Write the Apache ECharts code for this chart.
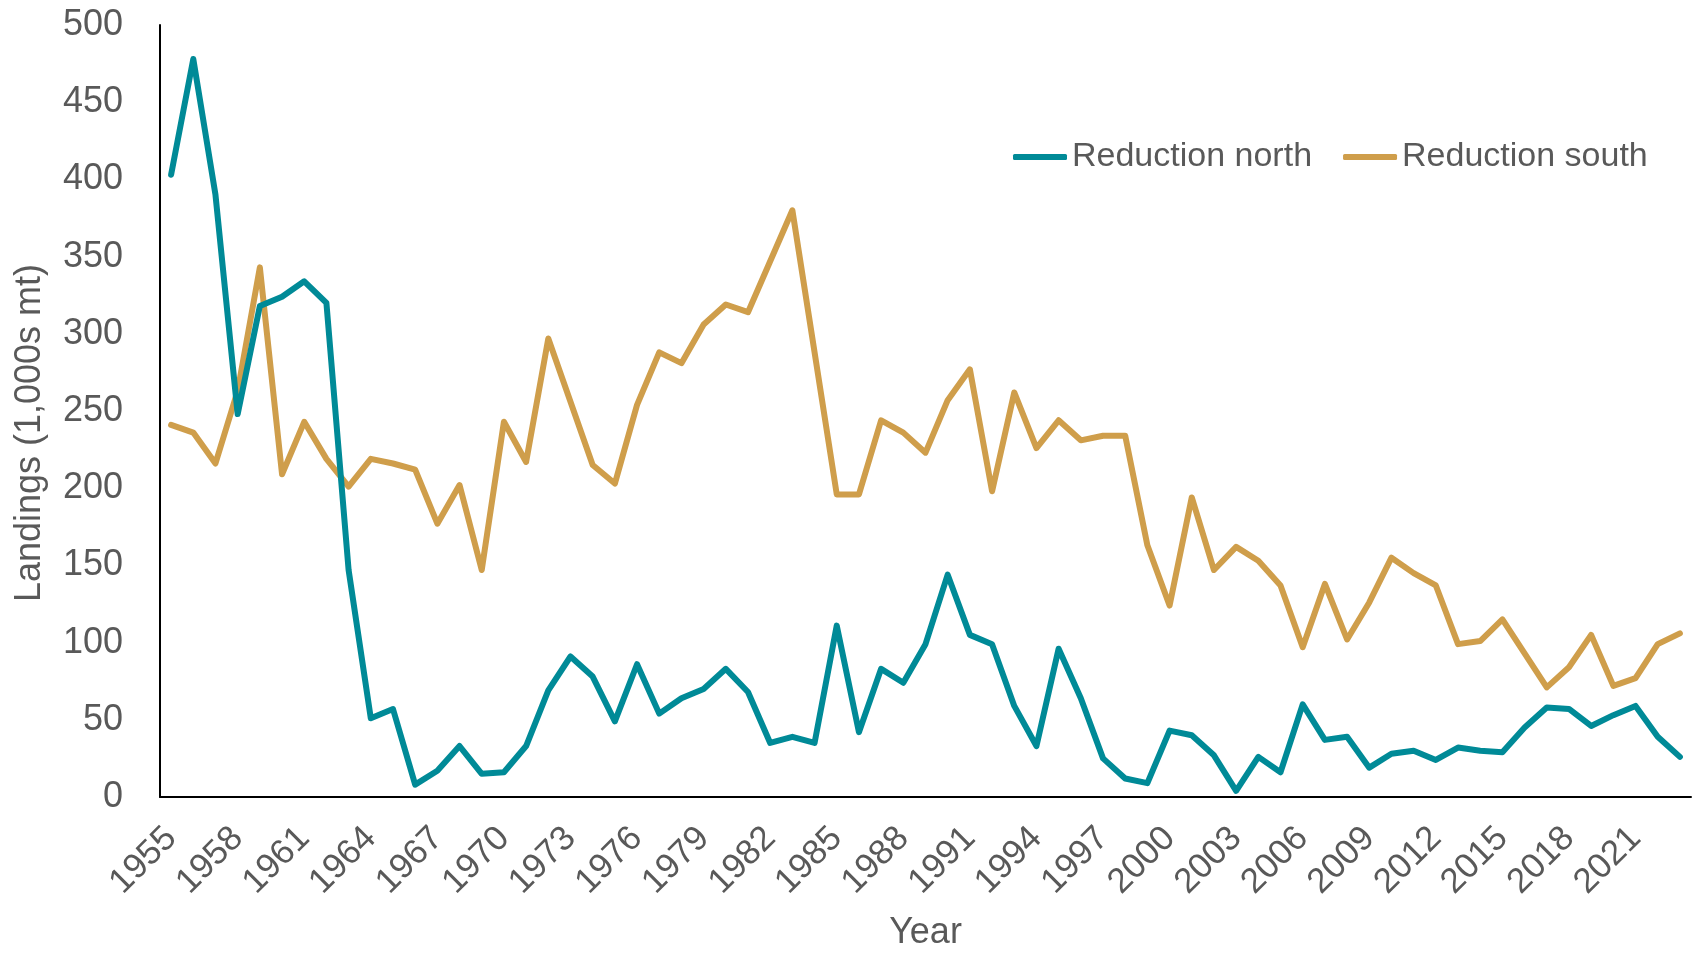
<!DOCTYPE html>
<html>
<head>
<meta charset="utf-8">
<script src="https://cdn.jsdelivr.net/npm/echarts@6/dist/echarts.min.js"></script>
<style>
html,body{margin:0;padding:0;background:#fff;}
#chart{width:1700px;height:955px;}
</style>
</head>
<body>
<div id="chart"></div>
<script>
const years = [];
for (let y = 1955; y <= 2023; y++) years.push(String(y));

const reductionNorth = [403, 478, 390, 248, 318, 324, 334, 320, 147, 51,
  57, 8, 17, 33, 15, 16, 33, 69, 91, 78,
  49, 86, 54, 64, 70, 83, 68, 35, 39, 35,
  111, 42, 83, 74, 99, 144, 105, 99, 59, 33,
  96, 64, 25, 12, 9, 43, 40, 27, 4, 26,
  16, 60, 37, 39, 19, 28, 30, 24, 32, 30,
  29, 45, 58, 57, 46, 53, 59, 39, 26];

const reductionSouth = [241, 236, 216, 263, 343, 209, 243, 219, 201, 219,
  216, 212, 177, 202, 147, 243, 217, 297, 256, 215,
  203, 254, 288, 281, 306, 319, 314, 347, 380, 288,
  196, 196, 244, 236, 223, 257, 277, 198, 262, 226,
  244, 231, 234, 234, 163, 124, 194, 147, 162, 153,
  137, 97, 138, 102, 126, 155, 145, 137, 99, 101,
  115, 93, 71, 84, 105, 72, 77, 99, 106];

const seriesNames = ['Reduction north', 'Reduction south'];
const colors = ['#008A97', '#CF9E4B'];
const FONT = "'Liberation Sans Narrow', 'Arial Narrow', 'Liberation Sans', Arial, sans-serif";
const TXT = '#595959';
const FS = 36;

const chart = echarts.init(document.getElementById('chart'), null, {renderer: 'canvas'});
chart.setOption({
  animation: false,
  backgroundColor: '#ffffff',
  color: colors,
  grid: {left: 160, right: 9, top: 25, bottom: 158, containLabel: false, outerBoundsMode: 'none'},
  legend: {
    orient: 'horizontal',
    left: 1008, top: 135, width: 690,
    itemWidth: 54, itemHeight: 6, itemGap: 31,
    icon: 'roundRect',
    textStyle: {fontFamily: FONT, fontSize: 34, color: TXT},
    data: seriesNames
  },
  xAxis: {
    type: 'category',
    data: years,
    boundaryGap: true,
    name: 'Year',
    nameLocation: 'middle',
    nameGap: 118,
    nameTextStyle: {fontFamily: FONT, fontSize: FS, color: TXT},
    axisLine: {show: true, lineStyle: {color: '#000', width: 2}},
    axisTick: {show: false},
    axisLabel: {
      interval: 2, rotate: 45, margin: 36,
      fontFamily: FONT, fontSize: 35, color: TXT, hideOverlap: false
    },
    splitLine: {show: false}
  },
  yAxis: {
    type: 'value',
    min: 0, max: 500, interval: 50,
    name: 'Landings (1,000s mt)',
    nameLocation: 'middle',
    nameGap: 112,
    nameTextStyle: {fontFamily: FONT, fontSize: FS, color: TXT, padding: [0, 44, 0, 0]},
    axisLine: {show: true, lineStyle: {color: '#000', width: 2}},
    axisTick: {show: false},
    axisLabel: {margin: 37, fontFamily: FONT, fontSize: FS, color: TXT},
    splitLine: {show: false}
  },
  series: [
    {name: seriesNames[0], type: 'line', data: reductionNorth, symbol: 'none',
     lineStyle: {width: 6, color: colors[0], join: 'round', cap: 'round'}, z: 3},
    {name: seriesNames[1], type: 'line', data: reductionSouth, symbol: 'none',
     lineStyle: {width: 6, color: colors[1], join: 'round', cap: 'round'}, z: 2}
  ]
});
</script>
</body>
</html>
